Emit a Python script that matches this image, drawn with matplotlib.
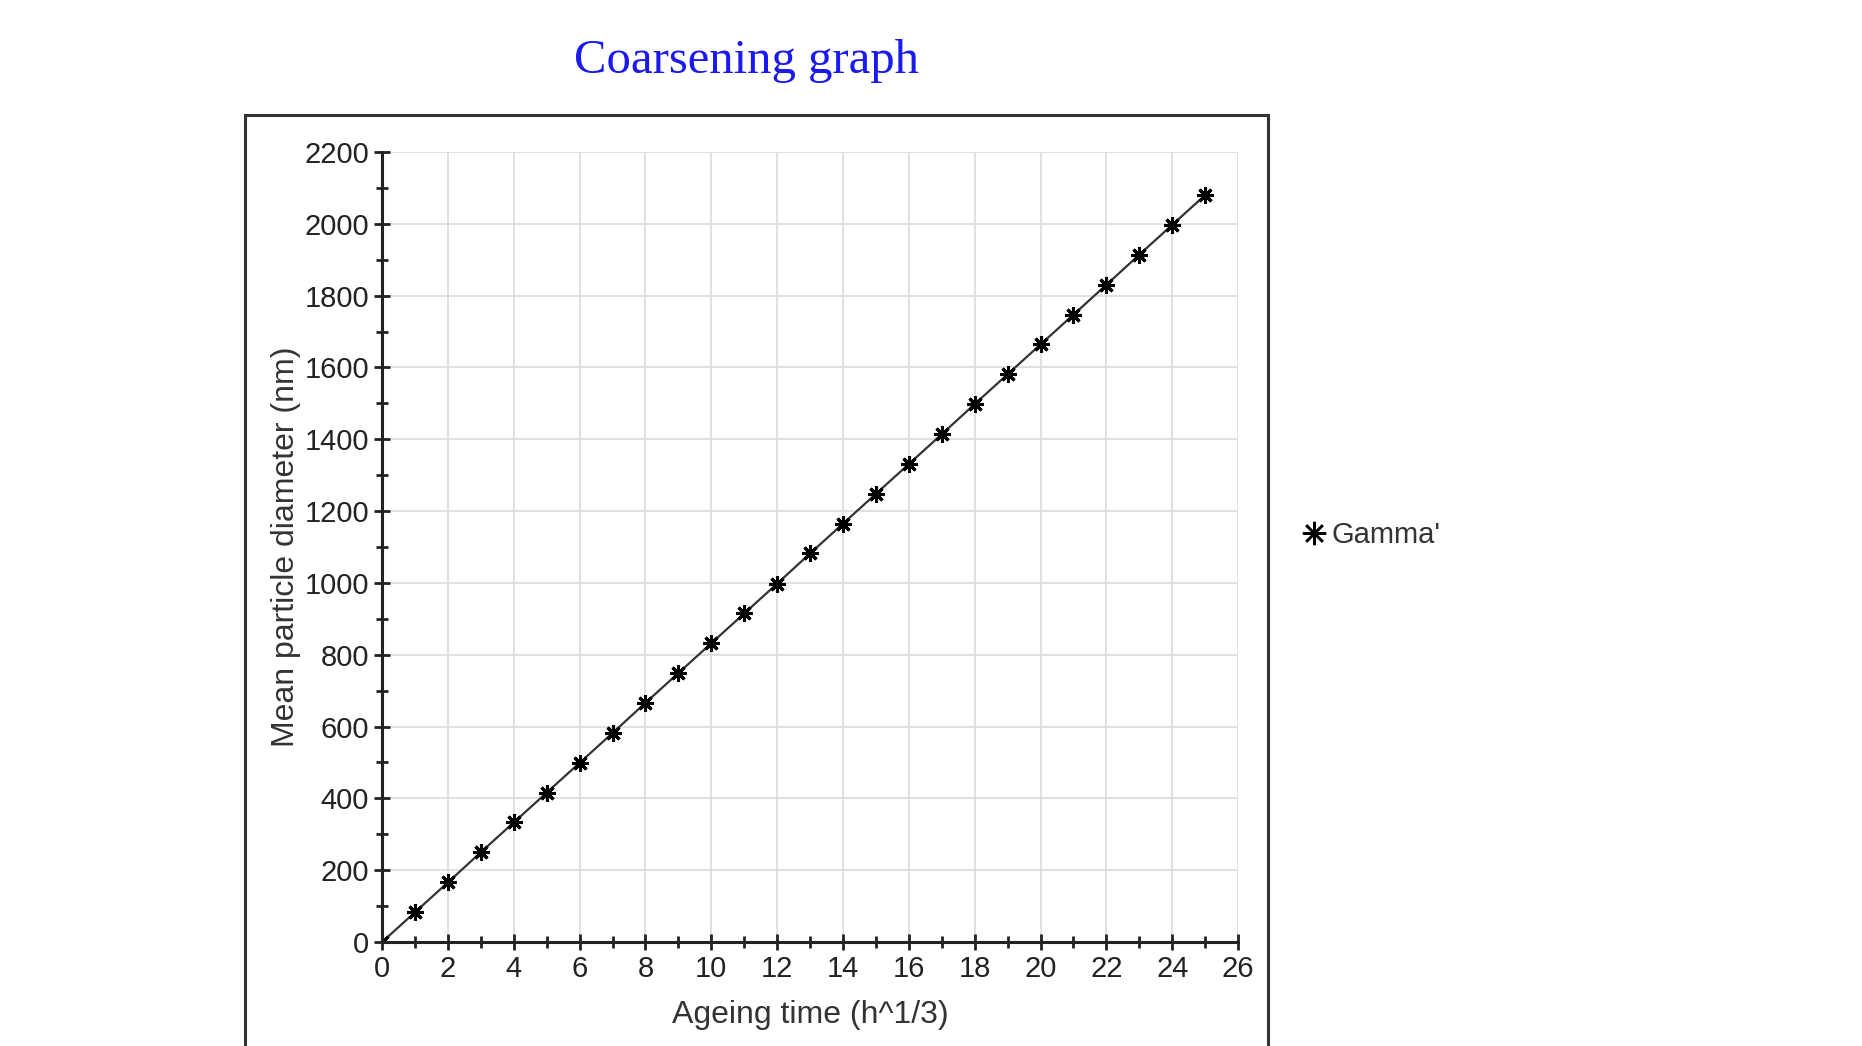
import matplotlib.pyplot as plt
from matplotlib.patches import Rectangle
from matplotlib.ticker import MultipleLocator

# ageing time (h^1/3) and mean particle diameter (nm)
ageing_time = [0, 1, 2, 3, 4, 5, 6, 7, 8, 9, 10, 11, 12, 13, 14, 15, 16, 17, 18, 19, 20, 21, 22, 23, 24, 25]
diameter = [0, 83, 166, 250, 333, 416, 499, 582, 666, 749, 832, 915, 998, 1082, 1165,
            1248, 1331, 1414, 1498, 1581, 1664, 1747, 1830, 1914, 1997, 2080]
series_name = "Gamma'"

plt.rcParams['font.family'] = ['Liberation Sans', 'DejaVu Sans']

fig = plt.figure(figsize=(18.62, 10.46), dpi=100)
ax = fig.add_axes([0.2052, 0.0994, 0.4597, 0.7553])

# outer frame around the chart (runs off the bottom of the picture)
fig.patches.append(Rectangle((245 / 1862, -0.2), (1268 - 245) / 1862, 1.2 - 115 / 1046,
                             transform=fig.transFigure, fill=False,
                             edgecolor='#333333', linewidth=2.2))

ax.plot(ageing_time, diameter, color='#333333', linewidth=1.6,
        marker=(8, 2, 0), markersize=12, markeredgewidth=2.2,
        markeredgecolor='black', label=series_name)

ax.set_xlim(0, 26)
ax.set_ylim(0, 2200)
ax.xaxis.set_major_locator(MultipleLocator(2))
ax.xaxis.set_minor_locator(MultipleLocator(1))
ax.yaxis.set_major_locator(MultipleLocator(200))
ax.yaxis.set_minor_locator(MultipleLocator(100))

for side in ['top', 'right']:
    ax.spines[side].set_visible(False)
for side in ['left', 'bottom']:
    ax.spines[side].set_linewidth(2.2)
    ax.spines[side].set_color('#222222')

ax.tick_params(which='major', direction='inout', length=11, width=2, labelsize=21,
               colors='#222222', pad=4)
ax.tick_params(which='minor', direction='inout', length=9, width=2, colors='#222222')
ax.grid(True, which='major', color='#dddddd', linewidth=1.3)
ax.set_axisbelow(True)

ax.set_xlabel('Ageing time (h^1/3)', fontsize=23, color='#333333', labelpad=12)
ax.set_ylabel('Mean particle diameter (nm)', fontsize=23, color='#333333', labelpad=2)

fig.text(746 / 1862, 1 - 61 / 1046, 'Coarsening graph', family='Liberation Serif',
         fontsize=35, color='#1a1aee', ha='center', va='center')

leg = ax.legend(loc='center left', bbox_to_anchor=(1.045, 0.515), frameon=False,
                fontsize=21, handlelength=0.8, handletextpad=0.2, markerscale=1.4)
for h in leg.legend_handles:
    h.set_linestyle('none')
    h.set_markeredgewidth(1.8)
for t in leg.get_texts():
    t.set_color('#333333')

fig.savefig('out.png', dpi=100)
